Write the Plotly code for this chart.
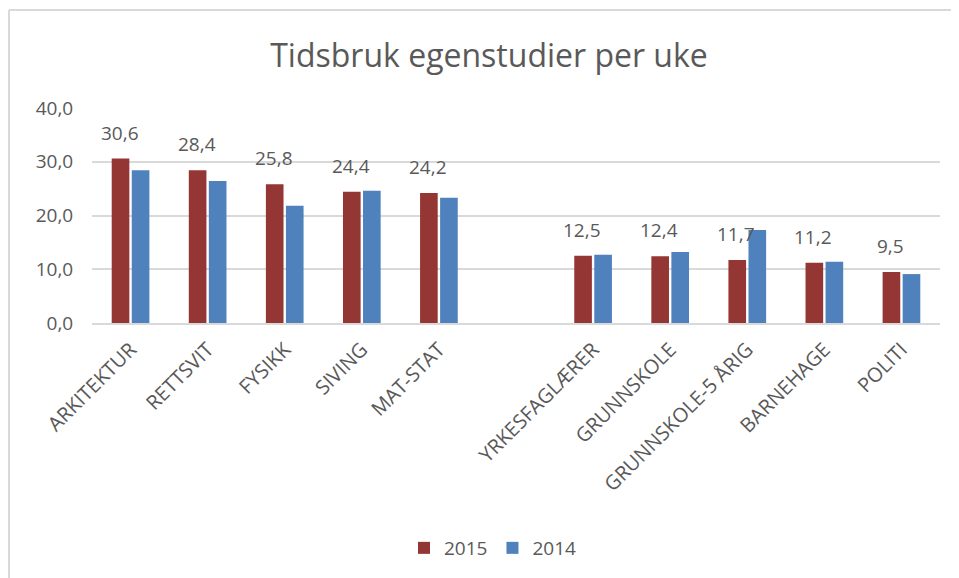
import plotly.graph_objects as go

categories = ["ARKITEKTUR", "RETTSVIT", "FYSIKK", "SIVING", "MAT-STAT", " ",
              "YRKESFAGLÆRER", "GRUNNSKOLE", "GRUNNSKOLE-5 ÅRIG", "BARNEHAGE", "POLITI"]
values_2015 = [30.6, 28.4, 25.8, 24.4, 24.2, None, 12.5, 12.4, 11.7, 11.2, 9.5]
values_2014 = [28.4, 26.4, 21.8, 24.6, 23.3, None, 12.7, 13.2, 17.3, 11.4, 9.1]
y_ticks = [0, 10, 20, 30, 40]

RED = "#943634"
BLUE = "#4F81BD"
TXT = "#595959"
GRID = "#D9D9D9"
FONT = "Open Sans"

fig = go.Figure()
fig.add_trace(go.Bar(x=categories, y=values_2015, name="2015", marker=dict(color=RED, line=dict(width=0))))
fig.add_trace(go.Bar(x=categories, y=values_2014, name="2014", marker=dict(color=BLUE, line=dict(width=0))))

# page body has an 8px margin: work in screen pixels, convert to figure pixels
OFF = 8
W, H = 959, 578
ml = 92 - OFF
mt = 108 - OFF
plot_right = 940 - OFF
plot_bottom = 323 - OFF
mr = W - plot_right
mb = H - plot_bottom
pw = W - ml - mr
ph = H - mt - mb

for c, v in zip(categories, values_2015):
    if v is None:
        continue
    fig.add_annotation(x=c, y=v, text=f"{v:.1f}".replace(".", ","), showarrow=False,
                       xshift=-11, yshift=26, yanchor="middle",
                       font=dict(family=FONT, size=19, color=TXT))

def px_x(p):
    return (p - OFF - ml) / pw

def px_y(p):
    return (plot_bottom - (p - OFF)) / ph

border = dict(color=GRID, width=2)
fig.add_shape(type="line", xref="paper", yref="paper", x0=px_x(9), x1=px_x(980), y0=px_y(10), y1=px_y(10), line=border)
fig.add_shape(type="line", xref="paper", yref="paper", x0=px_x(9), x1=px_x(9), y0=px_y(10), y1=px_y(600), line=border)

fig.update_layout(
    width=W, height=H,
    margin=dict(l=ml, r=mr, t=mt, b=mb),
    paper_bgcolor="white", plot_bgcolor="white",
    separators=", ",
    barmode="group", bargap=0.48, bargroupgap=0.12,
    title=dict(text="Tidsbruk egenstudier per uke", x=px_x(489), xref="paper", xanchor="center",
               y=1 - (56 - OFF) / H, yanchor="middle", font=dict(family=FONT, size=32, color=TXT)),
    font=dict(family=FONT, color=TXT),
    legend=dict(orientation="h", x=px_x(493), xanchor="center", y=px_y(548), yanchor="middle",
                font=dict(family=FONT, size=19, color=TXT), traceorder="normal"),
    xaxis=dict(type="category", tickangle=-45, tickfont=dict(family=FONT, size=20, color=TXT),
               showgrid=False, showline=True, linecolor=GRID, linewidth=2,
               ticks="outside", ticklen=5, tickcolor="rgba(0,0,0,0)"),
    yaxis=dict(range=[0, 40], tickvals=y_ticks, tickformat=".1f", showgrid=True, gridcolor=GRID,
               gridwidth=2, zeroline=False, showline=False, ticks="outside", ticklen=14,
               tickcolor="rgba(0,0,0,0)",
               tickfont=dict(family=FONT, size=19, color=TXT)),
)

fig.write_html("out.html")
